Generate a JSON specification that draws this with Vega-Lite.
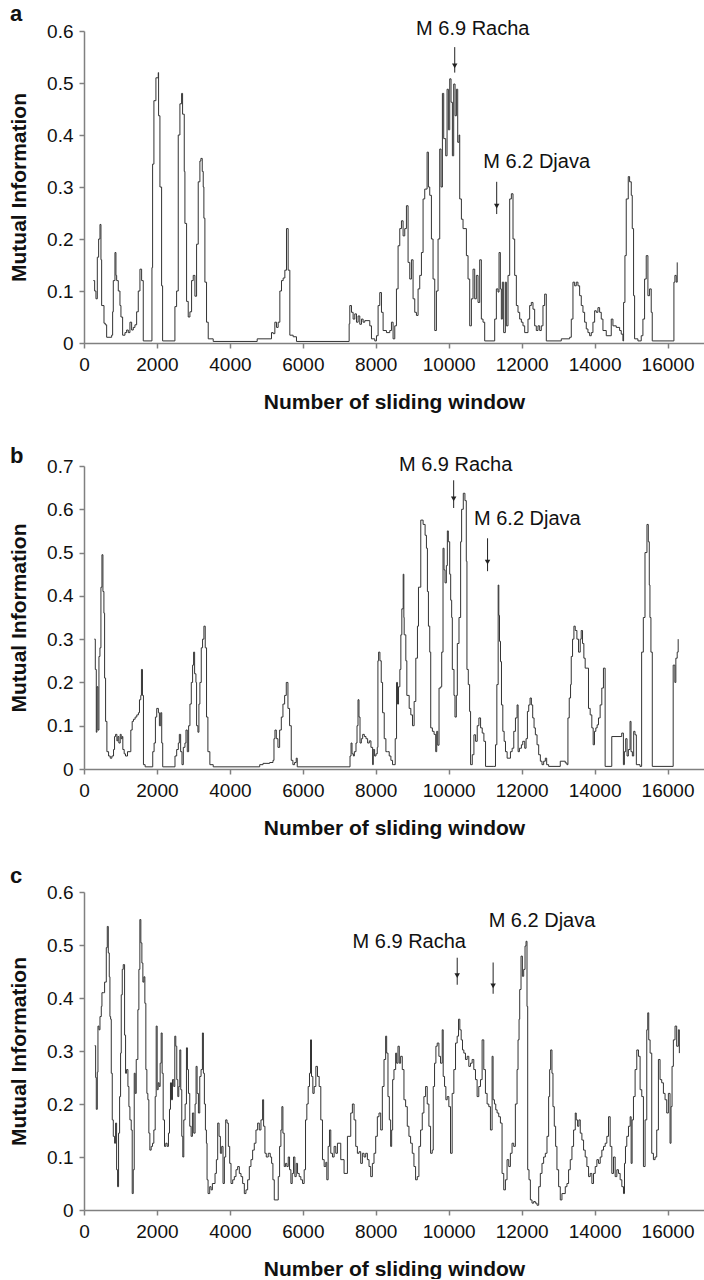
{
"$schema": "https://vega.github.io/schema/vega-lite/v6.json",
"background": "white",
"padding": {"left": 8, "top": 2, "right": 0, "bottom": 0},
"spacing": 123,
"bounds": "flush",
"config": {
  "font": "Liberation Sans",
  "view": {"stroke": null},
  "axis": {"grid": false, "domainColor": "#808080", "domainWidth": 1.5, "tickColor": "#808080", "tickWidth": 1.5, "tickSize": 5, "labelFont": "Liberation Sans", "labelFontSize": 19, "labelColor": "#111", "labelFlush": false, "titleFont": "Liberation Sans", "titleFontSize": 21, "titleFontWeight": "bold", "titleColor": "#111"},
  "axisX": {"labelPadding": 7, "titleY": 65, "titleBaseline": "alphabetic"},
  "axisY": {"labelPadding": 6, "titleX": -59, "titleBaseline": "alphabetic"}
},
"datasets": {
"a": [
{"x":255,"y":0.12},{"x":292,"y":0.10},{"x":328,"y":0.085},{"x":365,"y":0.165},{"x":401,"y":0.20},{"x":438,"y":0.228},{"x":465,"y":0.16},{"x":484,"y":0.072},{"x":548,"y":0.038},{"x":584,"y":0.035},{"x":621,"y":0.011},{"x":758,"y":0.015},{"x":785,"y":0.06},{"x":803,"y":0.12},{"x":849,"y":0.174},{"x":876,"y":0.13},{"x":895,"y":0.12},{"x":940,"y":0.10},{"x":986,"y":0.072},{"x":1013,"y":0.05},{"x":1059,"y":0.015},{"x":1123,"y":0.02},{"x":1169,"y":0.025},{"x":1214,"y":0.02},{"x":1260,"y":0.04},{"x":1306,"y":0.025},{"x":1351,"y":0.03},{"x":1397,"y":0.035},{"x":1443,"y":0.06},{"x":1488,"y":0.10},{"x":1534,"y":0.142},{"x":1580,"y":0.12},{"x":1625,"y":0.004},{"x":1863,"y":0.145},{"x":1881,"y":0.344},{"x":1917,"y":0.466},{"x":1972,"y":0.51},{"x":2036,"y":0.52},{"x":2045,"y":0.437},{"x":2082,"y":0.30},{"x":2128,"y":0.11},{"x":2155,"y":0.004},{"x":2493,"y":0.07},{"x":2539,"y":0.10},{"x":2584,"y":0.40},{"x":2630,"y":0.46},{"x":2676,"y":0.48},{"x":2703,"y":0.44},{"x":2749,"y":0.33},{"x":2767,"y":0.23},{"x":2813,"y":0.08},{"x":2858,"y":0.05},{"x":2904,"y":0.06},{"x":2950,"y":0.12},{"x":2995,"y":0.13},{"x":3041,"y":0.09},{"x":3087,"y":0.19},{"x":3132,"y":0.31},{"x":3178,"y":0.35},{"x":3205,"y":0.355},{"x":3242,"y":0.33},{"x":3269,"y":0.30},{"x":3287,"y":0.24},{"x":3315,"y":0.117},{"x":3360,"y":0.04},{"x":3406,"y":0.008},{"x":3543,"y":0.003},{"x":4749,"y":0.008},{"x":5141,"y":0.02},{"x":5187,"y":0.018},{"x":5233,"y":0.04},{"x":5278,"y":0.03},{"x":5324,"y":0.04},{"x":5370,"y":0.10},{"x":5415,"y":0.12},{"x":5461,"y":0.125},{"x":5507,"y":0.14},{"x":5552,"y":0.22},{"x":5598,"y":0.14},{"x":5644,"y":0.015},{"x":5735,"y":0.012},{"x":5826,"y":0.003},
{"x":7270,"y":0.037},{"x":7288,"y":0.072},{"x":7334,"y":0.059},{"x":7379,"y":0.046},{"x":7425,"y":0.056},{"x":7471,"y":0.04},{"x":7516,"y":0.052},{"x":7562,"y":0.036},{"x":7608,"y":0.046},{"x":7653,"y":0.04},{"x":7699,"y":0.043},{"x":7836,"y":0.033},{"x":7882,"y":0.008},{"x":7973,"y":0.004},{"x":8019,"y":0.014},{"x":8064,"y":0.072},{"x":8110,"y":0.097},{"x":8156,"y":0.059},{"x":8201,"y":0.024},{"x":8293,"y":0.02},{"x":8384,"y":0.024},{"x":8430,"y":0.04},{"x":8475,"y":0.008},{"x":8521,"y":0.033},{"x":8567,"y":0.104},{"x":8612,"y":0.187},{"x":8658,"y":0.22},{"x":8704,"y":0.235},{"x":8749,"y":0.206},{"x":8795,"y":0.22},{"x":8841,"y":0.264},{"x":8886,"y":0.155},{"x":8932,"y":0.123},{"x":8978,"y":0.16},{"x":9023,"y":0.085},{"x":9069,"y":0.059},{"x":9115,"y":0.053},{"x":9160,"y":0.104},{"x":9206,"y":0.13},{"x":9252,"y":0.174},{"x":9297,"y":0.277},{"x":9343,"y":0.296},{"x":9407,"y":0.367},{"x":9443,"y":0.30},{"x":9480,"y":0.284},{"x":9526,"y":0.20},{"x":9571,"y":0.123},{"x":9617,"y":0.024},{"x":9663,"y":0.10},{"x":9708,"y":0.2},{"x":9754,"y":0.373},{"x":9790,"y":0.30},{"x":9827,"y":0.48},{"x":9863,"y":0.393},{"x":9918,"y":0.36},{"x":9955,"y":0.488},{"x":9991,"y":0.41},{"x":10028,"y":0.508},{"x":10064,"y":0.463},{"x":10101,"y":0.36},{"x":10137,"y":0.498},{"x":10174,"y":0.437},{"x":10211,"y":0.488},{"x":10247,"y":0.386},{"x":10284,"y":0.40},{"x":10302,"y":0.277},{"x":10348,"y":0.238},{"x":10393,"y":0.22},{"x":10485,"y":0.168},{"x":10530,"y":0.123},{"x":10576,"y":0.033},{"x":10622,"y":0.085},{"x":10667,"y":0.142},{"x":10713,"y":0.085},{"x":10758,"y":0.13},{"x":10804,"y":0.078},{"x":10850,"y":0.16},{"x":10895,"y":0.046},{"x":10941,"y":0.04},{"x":10987,"y":0.004},{"x":11261,"y":0.046},{"x":11307,"y":0.104},{"x":11352,"y":0.098},{"x":11380,"y":0.174},{"x":11416,"y":0.104},{"x":11443,"y":0.046},{"x":11471,"y":0.117},{"x":11507,"y":0.02},{"x":11553,"y":0.117},{"x":11581,"y":0.033},{"x":11626,"y":0.13},{"x":11672,"y":0.277},{"x":11718,"y":0.287},{"x":11763,"y":0.20},{"x":11809,"y":0.13},{"x":11855,"y":0.072},{"x":11900,"y":0.059},{"x":11946,"y":0.046},{"x":11992,"y":0.04},{"x":12037,"y":0.033},{"x":12083,"y":0.02},{"x":12174,"y":0.046},{"x":12220,"y":0.072},{"x":12265,"y":0.078},{"x":12311,"y":0.065},{"x":12357,"y":0.033},{"x":12402,"y":0.024},{"x":12448,"y":0.033},{"x":12494,"y":0.024},{"x":12539,"y":0.033},{"x":12585,"y":0.072},{"x":12631,"y":0.094},{"x":12676,"y":0.004},{"x":13087,"y":0.008},{"x":13316,"y":0.011},{"x":13361,"y":0.046},{"x":13407,"y":0.117},{"x":13453,"y":0.11},{"x":13498,"y":0.117},{"x":13544,"y":0.11},{"x":13590,"y":0.091},{"x":13635,"y":0.072},{"x":13681,"y":0.059},{"x":13727,"y":0.04},{"x":13772,"y":0.027},{"x":13818,"y":0.02},{"x":13864,"y":0.014},{"x":13909,"y":0.02},{"x":13955,"y":0.04},{"x":14001,"y":0.062},{"x":14046,"y":0.059},{"x":14092,"y":0.068},{"x":14138,"y":0.059},{"x":14183,"y":0.046},{"x":14229,"y":0.024},{"x":14320,"y":0.014},{"x":14457,"y":0.046},{"x":14503,"y":0.033},{"x":14594,"y":0.03},{"x":14686,"y":0.024},{"x":14731,"y":0.017},{"x":14777,"y":0.004},{"x":14795,"y":0.078},{"x":14832,"y":0.168},{"x":14868,"y":0.277},{"x":14923,"y":0.32},{"x":14960,"y":0.31},{"x":15006,"y":0.284},{"x":15033,"y":0.22},{"x":15069,"y":0.091},{"x":15097,"y":0.008},{"x":15188,"y":0.004},{"x":15279,"y":0.014},{"x":15325,"y":0.046},{"x":15371,"y":0.123},{"x":15416,"y":0.168},{"x":15462,"y":0.091},{"x":15508,"y":0.104},{"x":15553,"y":0.059},{"x":15581,"y":0.004},{"x":16175,"y":0.117},{"x":16202,"y":0.13},{"x":16238,"y":0.117},{"x":16266,"y":0.155}
],
"b": [
{"x":282,"y":0.30},{"x":310,"y":0.23},{"x":337,"y":0.085},{"x":355,"y":0.19},{"x":382,"y":0.09},{"x":410,"y":0.26},{"x":437,"y":0.28},{"x":464,"y":0.42},{"x":492,"y":0.495},{"x":519,"y":0.41},{"x":546,"y":0.36},{"x":565,"y":0.21},{"x":592,"y":0.11},{"x":628,"y":0.04},{"x":674,"y":0.03},{"x":719,"y":0.025},{"x":765,"y":0.03},{"x":810,"y":0.045},{"x":838,"y":0.075},{"x":865,"y":0.08},{"x":902,"y":0.065},{"x":929,"y":0.075},{"x":956,"y":0.06},{"x":993,"y":0.08},{"x":1020,"y":0.07},{"x":1047,"y":0.075},{"x":1065,"y":0.045},{"x":1102,"y":0.035},{"x":1138,"y":0.03},{"x":1193,"y":0.04},{"x":1284,"y":0.09},{"x":1321,"y":0.11},{"x":1357,"y":0.115},{"x":1402,"y":0.12},{"x":1448,"y":0.125},{"x":1493,"y":0.13},{"x":1521,"y":0.16},{"x":1557,"y":0.17},{"x":1575,"y":0.23},{"x":1603,"y":0.17},{"x":1630,"y":0.01},{"x":1676,"y":0.005},{"x":1885,"y":0.04},{"x":1922,"y":0.06},{"x":1958,"y":0.12},{"x":1994,"y":0.14},{"x":2040,"y":0.13},{"x":2067,"y":0.10},{"x":2104,"y":0.13},{"x":2131,"y":0.06},{"x":2158,"y":0.005},{"x":2495,"y":0.03},{"x":2541,"y":0.045},{"x":2586,"y":0.06},{"x":2614,"y":0.08},{"x":2650,"y":0.04},{"x":2687,"y":0.01},{"x":2723,"y":0.05},{"x":2768,"y":0.06},{"x":2796,"y":0.09},{"x":2832,"y":0.04},{"x":2869,"y":0.10},{"x":2905,"y":0.15},{"x":2942,"y":0.20},{"x":2978,"y":0.24},{"x":3005,"y":0.27},{"x":3033,"y":0.22},{"x":3069,"y":0.2},{"x":3087,"y":0.10},{"x":3124,"y":0.085},{"x":3151,"y":0.15},{"x":3178,"y":0.20},{"x":3215,"y":0.28},{"x":3251,"y":0.30},{"x":3288,"y":0.33},{"x":3324,"y":0.28},{"x":3360,"y":0.12},{"x":3397,"y":0.04},{"x":3451,"y":0.01},{"x":3543,"y":0.005},{"x":4818,"y":0.01},{"x":4909,"y":0.013},{"x":5091,"y":0.015},{"x":5182,"y":0.02},{"x":5209,"y":0.07},{"x":5236,"y":0.09},{"x":5273,"y":0.07},{"x":5318,"y":0.05},{"x":5364,"y":0.09},{"x":5410,"y":0.12},{"x":5455,"y":0.15},{"x":5501,"y":0.17},{"x":5546,"y":0.20},{"x":5592,"y":0.14},{"x":5637,"y":0.10},{"x":5683,"y":0.02},{"x":5728,"y":0.01},{"x":5774,"y":0.015},{"x":5819,"y":0.025},{"x":5847,"y":0.005},
{"x":7294,"y":0.03},{"x":7322,"y":0.06},{"x":7349,"y":0.035},{"x":7386,"y":0.03},{"x":7413,"y":0.04},{"x":7458,"y":0.06},{"x":7486,"y":0.10},{"x":7513,"y":0.16},{"x":7540,"y":0.12},{"x":7568,"y":0.06},{"x":7604,"y":0.07},{"x":7641,"y":0.08},{"x":7686,"y":0.075},{"x":7732,"y":0.07},{"x":7777,"y":0.06},{"x":7823,"y":0.065},{"x":7868,"y":0.05},{"x":7914,"y":0.01},{"x":7932,"y":0.045},{"x":7968,"y":0.03},{"x":8005,"y":0.035},{"x":8041,"y":0.05},{"x":8059,"y":0.25},{"x":8078,"y":0.27},{"x":8114,"y":0.25},{"x":8150,"y":0.20},{"x":8187,"y":0.13},{"x":8232,"y":0.07},{"x":8278,"y":0.04},{"x":8324,"y":0.04},{"x":8369,"y":0.03},{"x":8415,"y":0.02},{"x":8460,"y":0.01},{"x":8533,"y":0.07},{"x":8570,"y":0.20},{"x":8597,"y":0.15},{"x":8624,"y":0.19},{"x":8661,"y":0.23},{"x":8688,"y":0.31},{"x":8715,"y":0.37},{"x":8752,"y":0.45},{"x":8770,"y":0.35},{"x":8779,"y":0.31},{"x":8824,"y":0.25},{"x":8852,"y":0.17},{"x":8916,"y":0.14},{"x":8961,"y":0.125},{"x":9007,"y":0.10},{"x":9052,"y":0.156},{"x":9098,"y":0.256},{"x":9143,"y":0.33},{"x":9171,"y":0.42},{"x":9234,"y":0.575},{"x":9298,"y":0.565},{"x":9353,"y":0.54},{"x":9389,"y":0.51},{"x":9416,"y":0.41},{"x":9444,"y":0.33},{"x":9480,"y":0.27},{"x":9507,"y":0.095},{"x":9553,"y":0.087},{"x":9599,"y":0.08},{"x":9644,"y":0.04},{"x":9671,"y":0.087},{"x":9699,"y":0.055},{"x":9735,"y":0.187},{"x":9781,"y":0.19},{"x":9808,"y":0.27},{"x":9844,"y":0.51},{"x":9872,"y":0.46},{"x":9899,"y":0.43},{"x":9936,"y":0.47},{"x":9963,"y":0.55},{"x":9990,"y":0.525},{"x":10027,"y":0.45},{"x":10054,"y":0.39},{"x":10081,"y":0.35},{"x":10099,"y":0.23},{"x":10145,"y":0.17},{"x":10172,"y":0.12},{"x":10209,"y":0.17},{"x":10236,"y":0.29},{"x":10282,"y":0.35},{"x":10327,"y":0.525},{"x":10354,"y":0.60},{"x":10400,"y":0.637},{"x":10445,"y":0.62},{"x":10482,"y":0.48},{"x":10500,"y":0.23},{"x":10537,"y":0.195},{"x":10573,"y":0.133},{"x":10600,"y":0.01},{"x":10646,"y":0.033},{"x":10691,"y":0.079},{"x":10737,"y":0.064},{"x":10782,"y":0.10},{"x":10828,"y":0.118},{"x":10874,"y":0.095},{"x":10919,"y":0.083},{"x":10965,"y":0.064},{"x":11010,"y":0.006},{"x":11238,"y":0.006},{"x":11283,"y":0.056},{"x":11320,"y":0.195},{"x":11356,"y":0.425},{"x":11374,"y":0.355},{"x":11393,"y":0.295},{"x":11420,"y":0.248},{"x":11447,"y":0.148},{"x":11484,"y":0.087},{"x":11520,"y":0.064},{"x":11557,"y":0.04},{"x":11602,"y":0.025},{"x":11693,"y":0.04},{"x":11739,"y":0.048},{"x":11784,"y":0.087},{"x":11830,"y":0.118},{"x":11875,"y":0.148},{"x":11903,"y":0.04},{"x":11939,"y":0.048},{"x":11994,"y":0.056},{"x":12030,"y":0.064},{"x":12085,"y":0.048},{"x":12121,"y":0.07},{"x":12158,"y":0.133},{"x":12194,"y":0.148},{"x":12231,"y":0.164},{"x":12267,"y":0.148},{"x":12303,"y":0.118},{"x":12340,"y":0.095},{"x":12376,"y":0.079},{"x":12422,"y":0.056},{"x":12467,"y":0.033},{"x":12513,"y":0.018},{"x":12558,"y":0.01},{"x":12604,"y":0.018},{"x":12649,"y":0.025},{"x":12686,"y":0.01},{"x":12740,"y":0.006},{"x":13059,"y":0.018},{"x":13196,"y":0.014},{"x":13241,"y":0.01},{"x":13269,"y":0.118},{"x":13305,"y":0.164},{"x":13341,"y":0.195},{"x":13360,"y":0.26},{"x":13396,"y":0.30},{"x":13433,"y":0.33},{"x":13469,"y":0.32},{"x":13515,"y":0.30},{"x":13560,"y":0.27},{"x":13606,"y":0.30},{"x":13633,"y":0.32},{"x":13669,"y":0.29},{"x":13706,"y":0.256},{"x":13742,"y":0.233},{"x":13833,"y":0.14},{"x":13879,"y":0.125},{"x":13924,"y":0.095},{"x":13961,"y":0.056},{"x":13997,"y":0.087},{"x":14034,"y":0.095},{"x":14070,"y":0.102},{"x":14107,"y":0.118},{"x":14152,"y":0.148},{"x":14198,"y":0.187},{"x":14243,"y":0.233},{"x":14289,"y":0.006},{"x":14471,"y":0.075},{"x":14744,"y":0.083},{"x":14790,"y":0.01},{"x":14817,"y":0.04},{"x":14853,"y":0.07},{"x":14890,"y":0.03},{"x":14926,"y":0.045},{"x":14972,"y":0.11},{"x":14999,"y":0.04},{"x":15036,"y":0.03},{"x":15072,"y":0.087},{"x":15108,"y":0.079},{"x":15145,"y":0.01},{"x":15245,"y":0.006},{"x":15290,"y":0.27},{"x":15336,"y":0.35},{"x":15382,"y":0.50},{"x":15436,"y":0.565},{"x":15473,"y":0.525},{"x":15500,"y":0.425},{"x":15518,"y":0.35},{"x":15545,"y":0.27},{"x":15582,"y":0.006},{"x":16155,"y":0.24},{"x":16201,"y":0.20},{"x":16228,"y":0.256},{"x":16265,"y":0.27},{"x":16292,"y":0.30}
],
"c": [
{"x":292,"y":0.31},{"x":319,"y":0.25},{"x":337,"y":0.19},{"x":365,"y":0.26},{"x":383,"y":0.347},{"x":410,"y":0.34},{"x":438,"y":0.365},{"x":474,"y":0.384},{"x":492,"y":0.41},{"x":529,"y":0.41},{"x":565,"y":0.43},{"x":611,"y":0.495},{"x":638,"y":0.535},{"x":666,"y":0.485},{"x":693,"y":0.44},{"x":711,"y":0.365},{"x":730,"y":0.36},{"x":748,"y":0.258},{"x":775,"y":0.17},{"x":803,"y":0.139},{"x":839,"y":0.126},{"x":866,"y":0.164},{"x":894,"y":0.076},{"x":921,"y":0.044},{"x":948,"y":0.145},{"x":976,"y":0.214},{"x":1003,"y":0.296},{"x":1021,"y":0.406},{"x":1049,"y":0.454},{"x":1076,"y":0.463},{"x":1113,"y":0.33},{"x":1140,"y":0.258},{"x":1167,"y":0.265},{"x":1204,"y":0.233},{"x":1231,"y":0.195},{"x":1259,"y":0.17},{"x":1295,"y":0.151},{"x":1322,"y":0.031},{"x":1350,"y":0.076},{"x":1377,"y":0.258},{"x":1404,"y":0.22},{"x":1432,"y":0.284},{"x":1477,"y":0.378},{"x":1505,"y":0.454},{"x":1532,"y":0.548},{"x":1559,"y":0.504},{"x":1587,"y":0.466},{"x":1614,"y":0.43},{"x":1642,"y":0.44},{"x":1669,"y":0.39},{"x":1696,"y":0.265},{"x":1724,"y":0.22},{"x":1751,"y":0.208},{"x":1778,"y":0.145},{"x":1806,"y":0.113},{"x":1842,"y":0.12},{"x":1879,"y":0.126},{"x":1915,"y":0.151},{"x":1952,"y":0.214},{"x":1979,"y":0.347},{"x":2006,"y":0.227},{"x":2034,"y":0.24},{"x":2061,"y":0.233},{"x":2088,"y":0.277},{"x":2116,"y":0.334},{"x":2143,"y":0.258},{"x":2171,"y":0.17},{"x":2207,"y":0.12},{"x":2243,"y":0.126},{"x":2280,"y":0.12},{"x":2316,"y":0.145},{"x":2344,"y":0.19},{"x":2371,"y":0.24},{"x":2399,"y":0.208},{"x":2426,"y":0.246},{"x":2462,"y":0.233},{"x":2490,"y":0.328},{"x":2517,"y":0.309},{"x":2544,"y":0.246},{"x":2572,"y":0.214},{"x":2599,"y":0.233},{"x":2627,"y":0.302},{"x":2654,"y":0.227},{"x":2681,"y":0.139},{"x":2709,"y":0.1},{"x":2736,"y":0.17},{"x":2773,"y":0.2},{"x":2809,"y":0.306},{"x":2836,"y":0.265},{"x":2864,"y":0.22},{"x":2900,"y":0.158},{"x":2937,"y":0.139},{"x":2973,"y":0.183},{"x":3010,"y":0.145},{"x":3046,"y":0.2},{"x":3073,"y":0.271},{"x":3101,"y":0.22},{"x":3137,"y":0.183},{"x":3174,"y":0.252},{"x":3210,"y":0.265},{"x":3247,"y":0.334},{"x":3274,"y":0.258},{"x":3301,"y":0.2},{"x":3329,"y":0.151},{"x":3356,"y":0.126},{"x":3374,"y":0.057},{"x":3402,"y":0.031},{"x":3447,"y":0.044},{"x":3484,"y":0.038},{"x":3520,"y":0.05},{"x":3593,"y":0.069},{"x":3630,"y":0.095},{"x":3666,"y":0.164},{"x":3703,"y":0.139},{"x":3739,"y":0.107},{"x":3776,"y":0.12},{"x":3812,"y":0.05},{"x":3849,"y":0.1},{"x":3885,"y":0.17},{"x":3922,"y":0.164},{"x":3958,"y":0.12},{"x":3995,"y":0.088},{"x":4031,"y":0.05},{"x":4077,"y":0.057},{"x":4122,"y":0.063},{"x":4168,"y":0.076},{"x":4213,"y":0.082},{"x":4259,"y":0.069},{"x":4305,"y":0.063},{"x":4350,"y":0.05},{"x":4396,"y":0.031},{"x":4441,"y":0.038},{"x":4487,"y":0.057},{"x":4533,"y":0.082},{"x":4578,"y":0.095},{"x":4624,"y":0.113},{"x":4669,"y":0.126},{"x":4715,"y":0.151},{"x":4761,"y":0.164},{"x":4806,"y":0.151},{"x":4852,"y":0.17},{"x":4897,"y":0.208},{"x":4925,"y":0.158},{"x":4961,"y":0.107},{"x":4998,"y":0.1},{"x":5052,"y":0.107},{"x":5107,"y":0.1},{"x":5144,"y":0.088},{"x":5180,"y":0.057},{"x":5217,"y":0.019},{"x":5326,"y":0.063},{"x":5363,"y":0.12},{"x":5399,"y":0.151},{"x":5426,"y":0.195},{"x":5454,"y":0.145},{"x":5490,"y":0.082},{"x":5527,"y":0.088},{"x":5563,"y":0.082},{"x":5600,"y":0.1},{"x":5636,"y":0.076},{"x":5673,"y":0.05},{"x":5709,"y":0.069},{"x":5746,"y":0.1},{"x":5782,"y":0.063},{"x":5819,"y":0.088},{"x":5855,"y":0.069},{"x":5901,"y":0.063},{"x":5946,"y":0.057},{"x":5992,"y":0.05},{"x":6037,"y":0.076},{"x":6074,"y":0.17},{"x":6110,"y":0.2},{"x":6147,"y":0.233},{"x":6183,"y":0.258},{"x":6211,"y":0.321},{"x":6238,"y":0.252},{"x":6275,"y":0.22},{"x":6311,"y":0.233},{"x":6357,"y":0.271},{"x":6402,"y":0.252},{"x":6448,"y":0.233},{"x":6493,"y":0.17},{"x":6539,"y":0.095},{"x":6585,"y":0.082},{"x":6630,"y":0.09},{"x":6658,"y":0.057},{"x":6694,"y":0.12},{"x":6731,"y":0.151},{"x":6767,"y":0.107},{"x":6813,"y":0.1},{"x":6858,"y":0.12},{"x":6904,"y":0.107},
{"x":6949,"y":0.126},{"x":7040,"y":0.095},{"x":7131,"y":0.069},{"x":7223,"y":0.139},{"x":7314,"y":0.183},{"x":7359,"y":0.2},{"x":7405,"y":0.17},{"x":7451,"y":0.12},{"x":7496,"y":0.107},{"x":7542,"y":0.11},{"x":7587,"y":0.088},{"x":7633,"y":0.107},{"x":7679,"y":0.1},{"x":7724,"y":0.107},{"x":7770,"y":0.095},{"x":7815,"y":0.082},{"x":7861,"y":0.063},{"x":7907,"y":0.088},{"x":7952,"y":0.107},{"x":7998,"y":0.139},{"x":8043,"y":0.176},{"x":8089,"y":0.183},{"x":8135,"y":0.151},{"x":8180,"y":0.233},{"x":8226,"y":0.284},{"x":8271,"y":0.328},{"x":8299,"y":0.296},{"x":8335,"y":0.214},{"x":8372,"y":0.17},{"x":8408,"y":0.12},{"x":8436,"y":0.151},{"x":8463,"y":0.246},{"x":8499,"y":0.265},{"x":8545,"y":0.296},{"x":8572,"y":0.277},{"x":8609,"y":0.309},{"x":8645,"y":0.277},{"x":8682,"y":0.29},{"x":8727,"y":0.265},{"x":8773,"y":0.208},{"x":8819,"y":0.195},{"x":8864,"y":0.158},{"x":8910,"y":0.139},{"x":8955,"y":0.126},{"x":9001,"y":0.107},{"x":9047,"y":0.082},{"x":9092,"y":0.057},{"x":9138,"y":0.063},{"x":9183,"y":0.12},{"x":9229,"y":0.151},{"x":9275,"y":0.183},{"x":9320,"y":0.214},{"x":9366,"y":0.233},{"x":9411,"y":0.2},{"x":9457,"y":0.158},{"x":9503,"y":0.107},{"x":9548,"y":0.113},{"x":9576,"y":0.233},{"x":9612,"y":0.277},{"x":9649,"y":0.309},{"x":9685,"y":0.315},{"x":9731,"y":0.29},{"x":9776,"y":0.277},{"x":9822,"y":0.34},{"x":9849,"y":0.252},{"x":9886,"y":0.233},{"x":9922,"y":0.208},{"x":9959,"y":0.214},{"x":10004,"y":0.195},{"x":10050,"y":0.107},{"x":10095,"y":0.22},{"x":10141,"y":0.265},{"x":10187,"y":0.315},{"x":10232,"y":0.328},{"x":10269,"y":0.36},{"x":10305,"y":0.34},{"x":10342,"y":0.321},{"x":10378,"y":0.302},{"x":10415,"y":0.296},{"x":10460,"y":0.284},{"x":10506,"y":0.29},{"x":10551,"y":0.271},{"x":10597,"y":0.277},{"x":10643,"y":0.284},{"x":10688,"y":0.265},{"x":10734,"y":0.246},{"x":10779,"y":0.214},{"x":10825,"y":0.233},{"x":10871,"y":0.246},{"x":10916,"y":0.321},{"x":10962,"y":0.265},{"x":11007,"y":0.22},{"x":11053,"y":0.2},{"x":11099,"y":0.195},{"x":11144,"y":0.151},{"x":11190,"y":0.29},{"x":11217,"y":0.208},{"x":11254,"y":0.2},{"x":11290,"y":0.189},{"x":11327,"y":0.183},{"x":11372,"y":0.176},{"x":11418,"y":0.164},{"x":11463,"y":0.069},{"x":11509,"y":0.038},{"x":11555,"y":0.057},{"x":11600,"y":0.095},{"x":11646,"y":0.082},{"x":11691,"y":0.107},{"x":11737,"y":0.126},{"x":11783,"y":0.12},{"x":11828,"y":0.2},{"x":11874,"y":0.265},{"x":11901,"y":0.321},{"x":11929,"y":0.36},{"x":11947,"y":0.416},{"x":11983,"y":0.479},{"x":12020,"y":0.441},{"x":12056,"y":0.454},{"x":12093,"y":0.498},{"x":12120,"y":0.507},{"x":12147,"y":0.384},{"x":12166,"y":0.076},{"x":12202,"y":0.057},{"x":12239,"y":0.019},{"x":12284,"y":0.013},{"x":12330,"y":0.016},{"x":12375,"y":0.013},{"x":12421,"y":0.009},{"x":12467,"y":0.044},{"x":12512,"y":0.069},{"x":12558,"y":0.088},{"x":12603,"y":0.1},{"x":12649,"y":0.107},{"x":12695,"y":0.139},{"x":12740,"y":0.214},{"x":12768,"y":0.265},{"x":12795,"y":0.302},{"x":12831,"y":0.258},{"x":12859,"y":0.195},{"x":12895,"y":0.158},{"x":12932,"y":0.12},{"x":12968,"y":0.076},{"x":13014,"y":0.044},{"x":13059,"y":0.019},{"x":13105,"y":0.031},{"x":13196,"y":0.044},{"x":13242,"y":0.05},{"x":13287,"y":0.076},{"x":13333,"y":0.095},{"x":13379,"y":0.12},{"x":13424,"y":0.151},{"x":13470,"y":0.183},{"x":13497,"y":0.17},{"x":13534,"y":0.158},{"x":13570,"y":0.17},{"x":13607,"y":0.145},{"x":13652,"y":0.132},{"x":13698,"y":0.113},{"x":13743,"y":0.1},{"x":13789,"y":0.082},{"x":13835,"y":0.063},{"x":13880,"y":0.069},{"x":13926,"y":0.05},{"x":13971,"y":0.069},{"x":14017,"y":0.082},{"x":14063,"y":0.095},{"x":14108,"y":0.088},{"x":14154,"y":0.1},{"x":14199,"y":0.113},{"x":14245,"y":0.12},{"x":14291,"y":0.126},{"x":14336,"y":0.139},{"x":14382,"y":0.176},{"x":14427,"y":0.12},{"x":14473,"y":0.069},{"x":14519,"y":0.1},{"x":14564,"y":0.063},{"x":14610,"y":0.076},{"x":14655,"y":0.069},{"x":14701,"y":0.057},{"x":14747,"y":0.044},{"x":14792,"y":0.031},{"x":14820,"y":0.088},{"x":14847,"y":0.12},{"x":14883,"y":0.139},{"x":14929,"y":0.158},{"x":14975,"y":0.176},{"x":15002,"y":0.088},{"x":15029,"y":0.17},{"x":15066,"y":0.214},{"x":15111,"y":0.265},{"x":15157,"y":0.302},{"x":15203,"y":0.29},{"x":15248,"y":0.227},{"x":15294,"y":0.214},{"x":15339,"y":0.082},{"x":15385,"y":0.17},{"x":15431,"y":0.34},{"x":15458,"y":0.372},{"x":15485,"y":0.321},{"x":15522,"y":0.296},{"x":15567,"y":0.107},{"x":15613,"y":0.095},{"x":15659,"y":0.1},{"x":15704,"y":0.151},{"x":15750,"y":0.284},{"x":15795,"y":0.246},{"x":15841,"y":0.24},{"x":15887,"y":0.22},{"x":15932,"y":0.208},{"x":15978,"y":0.183},{"x":16023,"y":0.22},{"x":16069,"y":0.126},{"x":16096,"y":0.195},{"x":16124,"y":0.271},{"x":16160,"y":0.321},{"x":16206,"y":0.347},{"x":16251,"y":0.309},{"x":16297,"y":0.34},{"x":16324,"y":0.296}
],
"arrows": [
{"panel":"a","x":10165,"top":0.569,"head":0.533,"bottom":0.52},
{"panel":"a","x":11316,"top":0.31,"head":0.263,"bottom":0.248},
{"panel":"b","x":10136,"top":0.667,"head":0.624,"bottom":0.603},
{"panel":"b","x":11065,"top":0.533,"head":0.478,"bottom":0.457},
{"panel":"c","x":10233,"top":0.476,"head":0.442,"bottom":0.425},
{"panel":"c","x":11218,"top":0.467,"head":0.423,"bottom":0.408}
],
"labels": [
{"panel":"a","label":"M 6.9 Racha","x":10659,"y":0.604},
{"panel":"a","label":"M 6.2 Djava","x":12412,"y":0.348},
{"panel":"b","label":"M 6.9 Racha","x":10190,"y":0.702},
{"panel":"b","label":"M 6.2 Djava","x":12157,"y":0.577},
{"panel":"c","label":"M 6.9 Racha","x":8919,"y":0.505},
{"panel":"c","label":"M 6.2 Djava","x":12558,"y":0.546}
]
},
"vconcat": [
{
 "width": 620, "height": 312,
 "title": {"text": "a", "anchor": "start", "frame": "group", "orient": "top", "fontSize": 22, "fontWeight": "bold", "font": "Liberation Sans", "baseline": "alphabetic", "offset": -24, "dx": -74, "color": "#111"},
 "layer": [
  {"data": {"name": "a"}, "mark": {"type": "line", "interpolate": "step-after", "color": "#333", "strokeWidth": 1},
   "encoding": {
    "x": {"field": "x", "type": "quantitative", "title": "Number of sliding window", "scale": {"domain": [0, 17000], "nice": false}, "axis": {"values": [0,2000,4000,6000,8000,10000,12000,14000,16000], "format": "d"}},
    "y": {"field": "y", "type": "quantitative", "title": "Mutual Information", "scale": {"domain": [0, 0.6], "nice": false}, "axis": {"values": [0,0.1,0.2,0.3,0.4,0.5,0.6], "format": ".1~f"}}}},
  {"data": {"name": "arrows"}, "transform": [{"filter": "datum.panel === 'a'"}], "mark": {"type": "rule", "color": "#222", "strokeWidth": 1},
   "encoding": {"x": {"field": "x", "type": "quantitative", "title": "Number of sliding window"}, "y": {"field": "top", "type": "quantitative", "title": "Mutual Information"}, "y2": {"field": "bottom"}}},
  {"data": {"name": "arrows"}, "transform": [{"filter": "datum.panel === 'a'"}], "mark": {"type": "point", "shape": "triangle-down", "filled": true, "size": 30, "color": "#222", "opacity": 1},
   "encoding": {"x": {"field": "x", "type": "quantitative", "title": "Number of sliding window"}, "y": {"field": "head", "type": "quantitative", "title": "Mutual Information"}}},
  {"data": {"name": "labels"}, "transform": [{"filter": "datum.panel === 'a'"}], "mark": {"type": "text", "fontSize": 20, "font": "Liberation Sans", "align": "center", "baseline": "middle", "color": "#111"},
   "encoding": {"x": {"field": "x", "type": "quantitative", "title": "Number of sliding window"}, "y": {"field": "y", "type": "quantitative", "title": "Mutual Information"}, "text": {"field": "label"}}}
 ]
},
{
 "width": 620, "height": 303,
 "title": {"text": "b", "anchor": "start", "frame": "group", "orient": "top", "fontSize": 22, "fontWeight": "bold", "font": "Liberation Sans", "baseline": "alphabetic", "offset": -30, "dx": -74, "color": "#111"},
 "layer": [
  {"data": {"name": "b"}, "mark": {"type": "line", "interpolate": "step-after", "color": "#333", "strokeWidth": 1},
   "encoding": {
    "x": {"field": "x", "type": "quantitative", "title": "Number of sliding window", "scale": {"domain": [0, 17000], "nice": false}, "axis": {"values": [0,2000,4000,6000,8000,10000,12000,14000,16000], "format": "d"}},
    "y": {"field": "y", "type": "quantitative", "title": "Mutual Information", "scale": {"domain": [0, 0.7], "nice": false}, "axis": {"values": [0,0.1,0.2,0.3,0.4,0.5,0.6,0.7], "format": ".1~f"}}}},
  {"data": {"name": "arrows"}, "transform": [{"filter": "datum.panel === 'b'"}], "mark": {"type": "rule", "color": "#222", "strokeWidth": 1},
   "encoding": {"x": {"field": "x", "type": "quantitative", "title": "Number of sliding window"}, "y": {"field": "top", "type": "quantitative", "title": "Mutual Information"}, "y2": {"field": "bottom"}}},
  {"data": {"name": "arrows"}, "transform": [{"filter": "datum.panel === 'b'"}], "mark": {"type": "point", "shape": "triangle-down", "filled": true, "size": 30, "color": "#222", "opacity": 1},
   "encoding": {"x": {"field": "x", "type": "quantitative", "title": "Number of sliding window"}, "y": {"field": "head", "type": "quantitative", "title": "Mutual Information"}}},
  {"data": {"name": "labels"}, "transform": [{"filter": "datum.panel === 'b'"}], "mark": {"type": "text", "fontSize": 20, "font": "Liberation Sans", "align": "center", "baseline": "middle", "color": "#111"},
   "encoding": {"x": {"field": "x", "type": "quantitative", "title": "Number of sliding window"}, "y": {"field": "y", "type": "quantitative", "title": "Mutual Information"}, "text": {"field": "label"}}}
 ]
},
{
 "width": 620, "height": 318,
 "title": {"text": "c", "anchor": "start", "frame": "group", "orient": "top", "fontSize": 22, "fontWeight": "bold", "font": "Liberation Sans", "baseline": "alphabetic", "offset": -22, "dx": -74, "color": "#111"},
 "layer": [
  {"data": {"name": "c"}, "mark": {"type": "line", "interpolate": "step-after", "color": "#333", "strokeWidth": 1},
   "encoding": {
    "x": {"field": "x", "type": "quantitative", "title": "Number of sliding window", "scale": {"domain": [0, 17000], "nice": false}, "axis": {"values": [0,2000,4000,6000,8000,10000,12000,14000,16000], "format": "d"}},
    "y": {"field": "y", "type": "quantitative", "title": "Mutual Information", "scale": {"domain": [0, 0.6], "nice": false}, "axis": {"values": [0,0.1,0.2,0.3,0.4,0.5,0.6], "format": ".1~f"}}}},
  {"data": {"name": "arrows"}, "transform": [{"filter": "datum.panel === 'c'"}], "mark": {"type": "rule", "color": "#222", "strokeWidth": 1},
   "encoding": {"x": {"field": "x", "type": "quantitative", "title": "Number of sliding window"}, "y": {"field": "top", "type": "quantitative", "title": "Mutual Information"}, "y2": {"field": "bottom"}}},
  {"data": {"name": "arrows"}, "transform": [{"filter": "datum.panel === 'c'"}], "mark": {"type": "point", "shape": "triangle-down", "filled": true, "size": 30, "color": "#222", "opacity": 1},
   "encoding": {"x": {"field": "x", "type": "quantitative", "title": "Number of sliding window"}, "y": {"field": "head", "type": "quantitative", "title": "Mutual Information"}}},
  {"data": {"name": "labels"}, "transform": [{"filter": "datum.panel === 'c'"}], "mark": {"type": "text", "fontSize": 20, "font": "Liberation Sans", "align": "center", "baseline": "middle", "color": "#111"},
   "encoding": {"x": {"field": "x", "type": "quantitative", "title": "Number of sliding window"}, "y": {"field": "y", "type": "quantitative", "title": "Mutual Information"}, "text": {"field": "label"}}}
 ]
}
]
}
